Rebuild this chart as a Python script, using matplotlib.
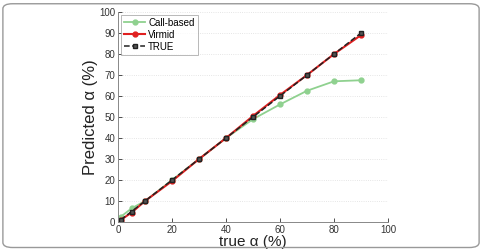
import numpy as np
import matplotlib
matplotlib.use("Agg")
import matplotlib.pyplot as plt
from matplotlib.patches import FancyBboxPatch

plt.rcParams['font.family'] = ['Liberation Sans', 'DejaVu Sans']

true_alpha = [1, 5, 10, 20, 30, 40, 50, 60, 70, 80, 90]
call_based = [2.5, 6.5, 10, 20, 30, 40, 49, 56, 62.5, 67, 67.5]
virmid = [1, 4.5, 10, 19.5, 30, 40, 50.5, 60.5, 70, 80, 89]
true_vals = [1, 5, 10, 20, 30, 40, 50, 60, 70, 80, 90]

fig = plt.figure(figsize=(4.82, 2.5), dpi=100)
ax = fig.add_axes([0.245, 0.112, 0.56, 0.84])

ax.plot(true_alpha, call_based, c='#8fd18f', lw=1.3, marker='o', ms=3.5, label='Call-based')
ax.plot(true_alpha, virmid, c='#e02020', lw=1.5, marker='o', ms=3.5, label='Virmid')
ax.plot(true_alpha, true_vals, c='#222222', lw=1.1, ls='--', marker='s', ms=3,
        mfc='#555555', label='TRUE')

ax.set_xlim(0, 100)
ax.set_ylim(0, 100)
ax.set_xticks(np.arange(0, 101, 20))
ax.set_yticks(np.arange(0, 101, 10))
ax.tick_params(direction='in', labelsize=7, colors='#333333', length=3, width=0.6, pad=2)
for s in ['top', 'right']:
    ax.spines[s].set_visible(False)
for s in ['left', 'bottom']:
    ax.spines[s].set_color('#888888')
    ax.spines[s].set_linewidth(0.7)
ax.yaxis.grid(True, ls=':', c='#dddddd', lw=0.6)
ax.set_axisbelow(True)

ax.set_xlabel('true α (%)', fontsize=11, labelpad=0, color='#222222')
ax.set_ylabel('Predicted α (%)', fontsize=12, labelpad=1, color='#222222')

leg = ax.legend(loc='upper left', fontsize=7, frameon=True, fancybox=False,
                handlelength=2.2, borderpad=0.3, labelspacing=0.2,
                handletextpad=0.3, borderaxespad=0.3)
leg.get_frame().set_edgecolor('#999999')
leg.get_frame().set_linewidth(0.6)

border = FancyBboxPatch((0.006, 0.01), 0.988, 0.975, boxstyle='round,pad=0,rounding_size=0.02',
                        transform=fig.transFigure, fill=False, ec='#999999', lw=1.0)
fig.patches.append(border)

fig.savefig('out.png', dpi=100)
